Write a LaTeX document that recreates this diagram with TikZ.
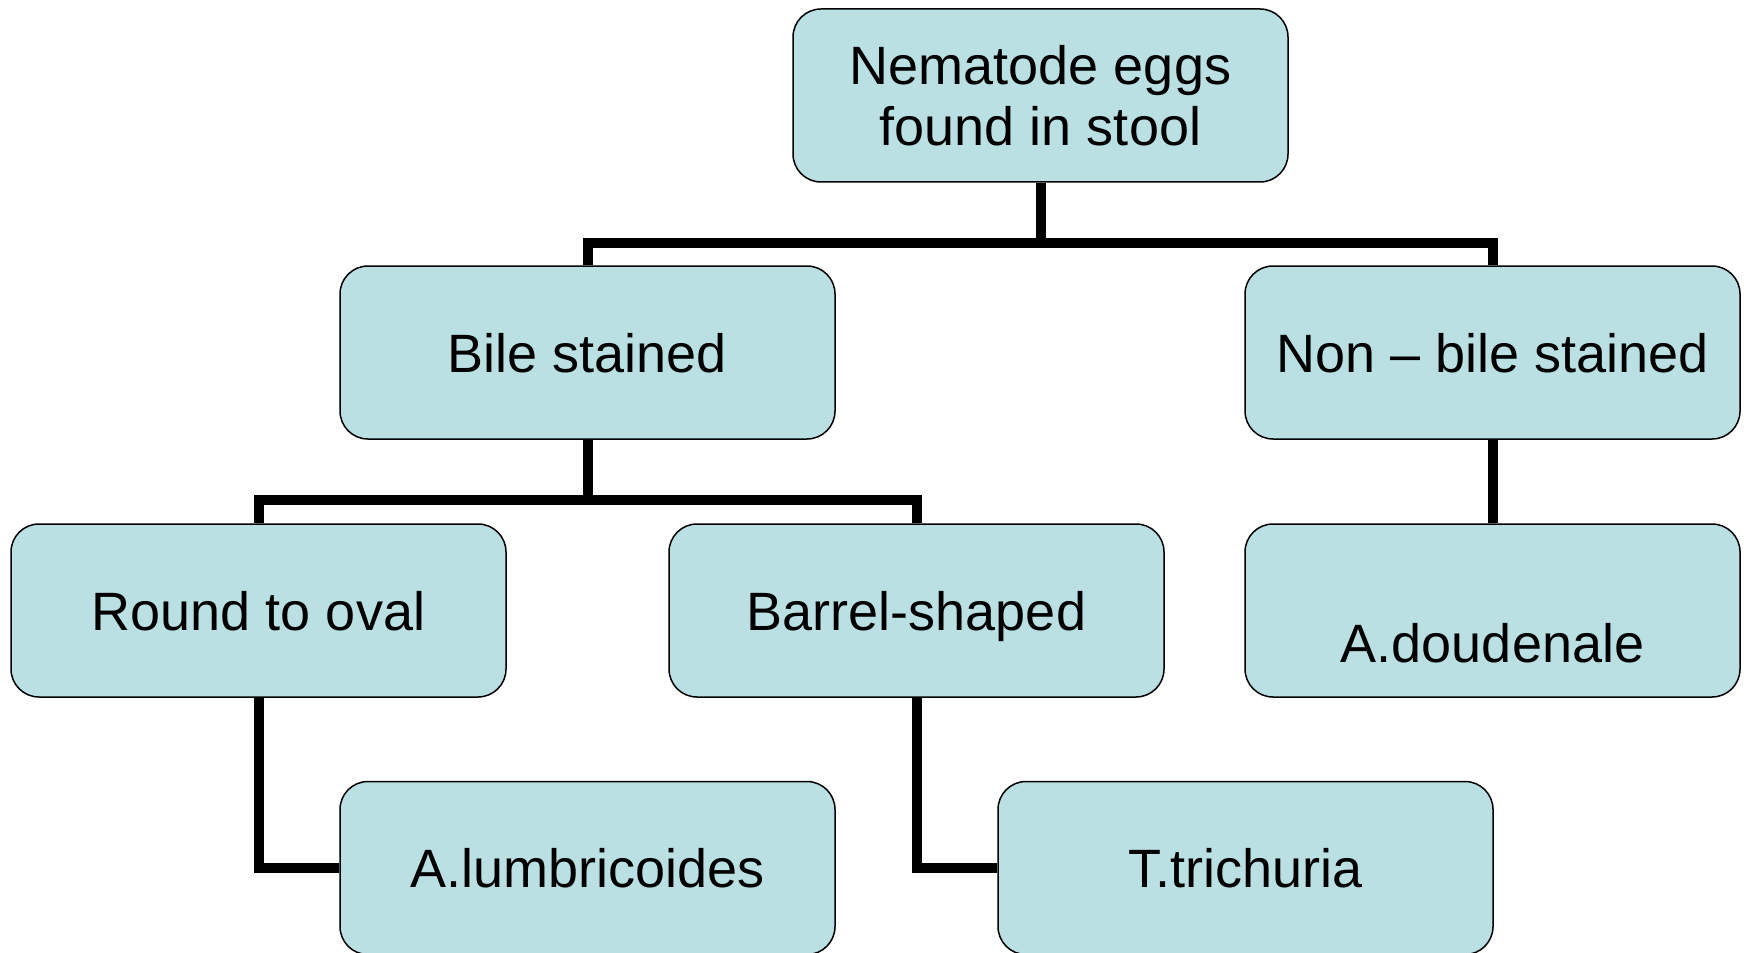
\documentclass[tikz,border=0pt]{standalone}
\usepackage{fontspec}
\setmainfont{Liberation Sans}
\usepackage{xcolor}
\usepackage{tikz}
\definecolor{eggblue}{RGB}{187,224,227}

\begin{document}
\begin{tikzpicture}[
    x=0.5pt, y=-0.5pt,
    line width=0.75pt,
    box/.style={draw=black, fill=eggblue, rounded corners=14pt,
      minimum width=247.5pt, minimum height=86.5pt, align=center,
      inner sep=0pt, text depth=0pt},
    link/.style={line width=5pt},
    every node/.style={font=\fontsize{27}{30.5}\selectfont}
  ]
    \useasboundingbox (0,0) rectangle (1748,952);
    \node[box] (eggs) at (1040.5,95.5) {Nematode eggs\\found in stool};
    \node[box] (bile) at (587.5,352.5) {Bile stained};
    \node[box] (nonbile) at (1492.5,352.5) {Non -- bile stained};
    \node[box] (round) at (258.5,610.5) {Round to oval};
    \node[box] (barrel) at (916.5,610.5) {Barrel-shaped};
    \node[box] (duod) at (1492.5,610.5) {\strut\\A.doudenale};
    \node[box] (lumb) at (587.5,868) {A.lumbricoides};
    \node[box] (trich) at (1245.5,868) {T.trichuria};
    \draw[link] (eggs.south) -- ++(0,60) -| (bile.north);
    \draw[link] (eggs.south) ++(0,60) -| (nonbile.north);
    \draw[link] (bile.south) -- ++(0,60) -| (round.north);
    \draw[link] (bile.south) ++(0,60) -| (barrel.north);
    \draw[link] (nonbile.south) -- (duod.north);
    \draw[link] (round.south) |- (lumb.west);
    \draw[link] (barrel.south) |- (trich.west);
  \end{tikzpicture}
\end{document}
